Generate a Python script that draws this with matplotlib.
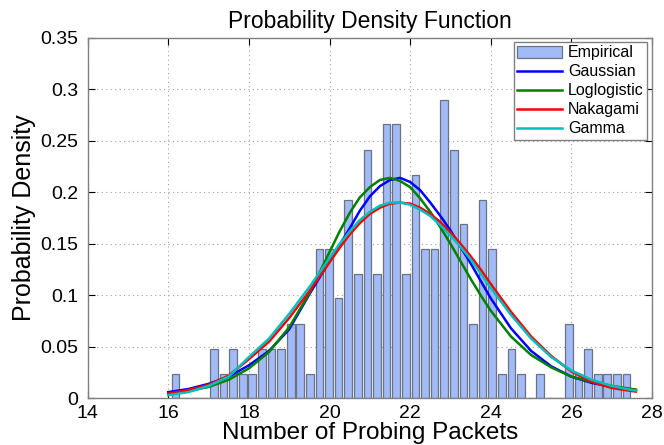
import numpy as np
import matplotlib
matplotlib.use("Agg")
import matplotlib.pyplot as plt
from matplotlib.ticker import FuncFormatter

plt.rcParams['font.family'] = ['Liberation Sans', 'DejaVu Sans']

# ---- data ----
bin_first_center = 16.18
bin_step = 0.238
empirical_density = [0.024, 0, 0, 0, 0.048, 0.024, 0.048, 0.024, 0.024, 0.048,
                     0.048, 0.048, 0.072, 0.072, 0.024, 0.145, 0.145, 0.097, 0.193, 0.121,
                     0.241, 0.121, 0.266, 0.266, 0.121, 0.217, 0.145, 0.145, 0.290, 0.241,
                     0.169, 0.072, 0.193, 0.145, 0.024, 0.048, 0.024, 0, 0.024, 0,
                     0, 0.072, 0.024, 0.048, 0.024, 0.024, 0.024, 0.024]

curve_x = [16.0, 16.5, 17.0, 17.5, 18.0, 18.5, 19.0, 19.5, 19.75, 20.0, 20.25, 20.5, 20.75,
           21.0, 21.25, 21.5, 21.75, 22.0, 22.25, 22.5, 22.75, 23.0, 23.25, 23.5, 23.75,
           24.0, 24.5, 25.0, 25.5, 26.0, 26.5, 27.0, 27.5, 27.6]
gaussian = [0.006, 0.009, 0.014, 0.021, 0.032, 0.046, 0.067, 0.101, 0.117, 0.133, 0.149, 0.165, 0.182,
            0.196, 0.206, 0.212, 0.214, 0.210, 0.202, 0.190, 0.177, 0.163, 0.147, 0.131, 0.114,
            0.097, 0.068, 0.046, 0.031, 0.021, 0.015, 0.011, 0.008, 0.0075]
loglogistic = [0.004, 0.007, 0.011, 0.018, 0.029, 0.045, 0.069, 0.102, 0.122, 0.142, 0.162, 0.180, 0.195,
               0.205, 0.212, 0.214, 0.211, 0.205, 0.194, 0.181, 0.166, 0.150, 0.133, 0.116, 0.100,
               0.085, 0.060, 0.042, 0.030, 0.021, 0.016, 0.012, 0.009, 0.0085]
nakagami = [0.0045, 0.008, 0.013, 0.022, 0.038, 0.055, 0.078, 0.104, 0.118, 0.132, 0.146, 0.159, 0.170,
            0.179, 0.185, 0.189, 0.190, 0.189, 0.185, 0.179, 0.171, 0.161, 0.150, 0.138, 0.125,
            0.111, 0.084, 0.060, 0.041, 0.026, 0.016, 0.010, 0.007, 0.0065]
gamma = [0.003, 0.006, 0.012, 0.021, 0.040, 0.058, 0.082, 0.108, 0.122, 0.136, 0.150, 0.162, 0.173,
         0.181, 0.187, 0.190, 0.190, 0.188, 0.183, 0.177, 0.168, 0.158, 0.147, 0.135, 0.121,
         0.107, 0.081, 0.058, 0.040, 0.027, 0.018, 0.012, 0.008, 0.0075]

series_names = ['Empirical', 'Gaussian', 'Loglogistic', 'Nakagami', 'Gamma']
x_ticks = [14, 16, 18, 20, 22, 24, 26, 28]
y_ticks = [0, 0.05, 0.1, 0.15, 0.2, 0.25, 0.3, 0.35]

# ---- figure ----
fig = plt.figure(figsize=(6.64, 4.45), dpi=100)
ax = fig.add_axes([0.132, 0.105, 0.850, 0.810])

centers = bin_first_center + bin_step * np.arange(len(empirical_density))
h_bar = ax.bar(centers, empirical_density, width=bin_step * 0.8, color='#a2bbf7',
               edgecolor='#6a7284', linewidth=0.9, zorder=2)

h1, = ax.plot(curve_x, gaussian, color='#0000ff', lw=1.8, zorder=3)
h2, = ax.plot(curve_x, loglogistic, color='#008000', lw=1.8, zorder=3)
h3, = ax.plot(curve_x, nakagami, color='#ff0000', lw=1.8, zorder=3)
h4, = ax.plot(curve_x, gamma, color='#00bfbf', lw=1.8, zorder=3)

ax.set_xlim(14, 28)
ax.set_ylim(0, 0.35)
ax.set_xticks(x_ticks)
ax.set_yticks(y_ticks)
ax.yaxis.set_major_formatter(FuncFormatter(lambda v, p: '%g' % v))
ax.tick_params(direction='in', length=5, width=0.8, top=True, right=True,
               labelsize=14, colors='#000000')
ax.tick_params(axis='x', pad=5)
ax.tick_params(axis='y', pad=7)
for s in ax.spines.values():
    s.set_color('#808080')
    s.set_linewidth(1.0)
ax.set_axisbelow(True)
ax.grid(True, color='#a0a0a0', linestyle=(0, (1, 3)), linewidth=0.8)

ax.set_title('Probability Density Function', fontsize=16.5, pad=7)
ax.set_xlabel('Number of Probing Packets', fontsize=17.5, labelpad=0)
ax.set_ylabel('Probability Density', fontsize=18, labelpad=3)

leg = ax.legend([h_bar, h1, h2, h3, h4], series_names, loc='upper right',
                fontsize=11.5, handlelength=2.8, handleheight=0.75,
                borderpad=0.2, labelspacing=0.25, handletextpad=0.4,
                borderaxespad=0.0, fancybox=False, framealpha=1,
                edgecolor='#808080', bbox_to_anchor=(0.991, 0.988))
leg.get_frame().set_linewidth(1.0)

fig.savefig('out.png', dpi=100)
